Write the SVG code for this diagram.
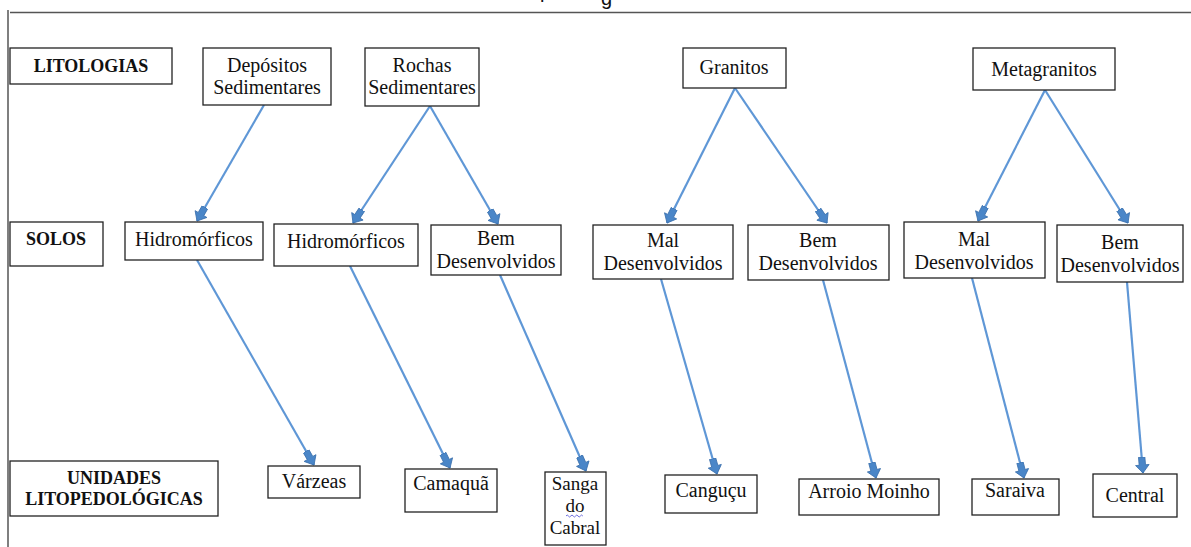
<svg xmlns="http://www.w3.org/2000/svg" width="1191" height="547" viewBox="0 0 1191 547">
<defs>
<style>
.box{fill:#fff;stroke:#222;stroke-width:1.3}
.t{font-family:"Liberation Serif","Times New Roman",serif;font-size:20px;fill:#111;text-anchor:middle}
.b{font-weight:bold;font-size:18px}
.s{font-size:19px}
.frame{stroke:#555;stroke-width:1.5;fill:none}
.ar{stroke:#5f97d6;stroke-width:2.2;fill:none;marker-end:url(#ah)}
.cap{font-family:"Liberation Sans",Arial,sans-serif;font-size:20px;fill:#111}
</style>
<marker id="ah" markerUnits="userSpaceOnUse" markerWidth="20" markerHeight="18" refX="16" refY="8" orient="auto" viewBox="0 0 20 16">
<path d="M0,4.8 L8,4.8 L8,1.2 L16,8 L8,14.8 L8,11.2 L0,11.2 Z" fill="#4a86c8" stroke="#3b70ad" stroke-width="0.8"/>
</marker>
</defs>
<rect width="1191" height="547" fill="#fff"/>
<text class="cap" x="540" y="-2">p</text>
<text class="cap" x="601" y="5">g</text>
<path class="frame" d="M10,12.5 H1191 M8,10 V547"/>

<g id="connectors">
<line class="ar" x1="264" y1="105" x2="197" y2="221"/>
<line class="ar" x1="430" y1="106" x2="353" y2="223"/>
<line class="ar" x1="430" y1="106" x2="498" y2="224"/>
<line class="ar" x1="735" y1="88" x2="667" y2="223"/>
<line class="ar" x1="735" y1="88" x2="827" y2="223"/>
<line class="ar" x1="1045" y1="90" x2="978" y2="221"/>
<line class="ar" x1="1045" y1="90" x2="1128" y2="223"/>
<line class="ar" x1="197" y1="260" x2="314" y2="465"/>
<line class="ar" x1="350" y1="266" x2="450" y2="468"/>
<line class="ar" x1="500" y1="275" x2="586" y2="471"/>
<line class="ar" x1="661" y1="279" x2="717" y2="474"/>
<line class="ar" x1="823" y1="280" x2="876" y2="478"/>
<line class="ar" x1="972" y1="278" x2="1024" y2="478"/>
<line class="ar" x1="1127" y1="282" x2="1143" y2="473"/>
</g>

<g id="litologias"><rect class="box" x="10" y="48" width="162" height="36"/><text class="t b" x="91" y="72">LITOLOGIAS</text></g>
<g id="depositos"><rect class="box" x="203" y="48" width="128" height="57"/><text class="t" x="267" y="72">Depósitos</text><text class="t" x="267" y="94">Sedimentares</text></g>
<g id="rochas"><rect class="box" x="365" y="48" width="114" height="58"/><text class="t" x="422" y="72">Rochas</text><text class="t" x="422" y="94">Sedimentares</text></g>
<g id="granitos"><rect class="box" x="683" y="48" width="103" height="40"/><text class="t" x="734" y="74">Granitos</text></g>
<g id="metagranitos"><rect class="box" x="973" y="48" width="142" height="42"/><text class="t" x="1044" y="76">Metagranitos</text></g>

<g id="solos"><rect class="box" x="10" y="222" width="93" height="44"/><text class="t b" x="56" y="245">SOLOS</text></g>
<g id="hidro1"><rect class="box" x="125" y="222" width="138" height="38"/><text class="t" x="194" y="246">Hidromórficos</text></g>
<g id="hidro2"><rect class="box" x="274" y="224" width="144" height="42"/><text class="t" x="346" y="248">Hidromórficos</text></g>
<g id="bem1"><rect class="box" x="431" y="225" width="130" height="50"/><text class="t" x="496" y="245">Bem</text><text class="t" x="496" y="268">Desenvolvidos</text></g>
<g id="mal1"><rect class="box" x="593" y="225" width="140" height="54"/><text class="t" x="663" y="247">Mal</text><text class="t" x="663" y="270">Desenvolvidos</text></g>
<g id="bem2"><rect class="box" x="748" y="225" width="141" height="55"/><text class="t" x="818" y="247">Bem</text><text class="t" x="818" y="270">Desenvolvidos</text></g>
<g id="mal2"><rect class="box" x="904" y="222" width="141" height="56"/><text class="t" x="974" y="246">Mal</text><text class="t" x="974" y="269">Desenvolvidos</text></g>
<g id="bem3"><rect class="box" x="1057" y="225" width="126" height="57"/><text class="t" x="1120" y="249">Bem</text><text class="t" x="1120" y="272">Desenvolvidos</text></g>

<g id="unidades"><rect class="box" x="10" y="461" width="208" height="55"/><text class="t b" x="114" y="484">UNIDADES</text><text class="t b" x="114" y="505">LITOPEDOLÓGICAS</text></g>
<g id="varzeas"><rect class="box" x="268" y="466" width="92" height="32"/><text class="t" x="314" y="488">Várzeas</text></g>
<g id="camaqua"><rect class="box" x="405" y="469" width="92" height="43"/><text class="t" x="451" y="490">Camaquã</text></g>
<g id="sanga"><rect class="box" x="545" y="472" width="61" height="73"/><text class="t s" x="575" y="490">Sanga</text><text class="t s" x="575" y="512">do</text><text class="t s" x="575" y="534">Cabral</text><path d="M566,516 q1.2,-2 2.4,0 t2.4,0 t2.4,0 t2.4,0 t2.4,0 t2.4,0 t2.4,0" fill="none" stroke="#5a5ad8" stroke-width="0.9"/></g>
<g id="cangucu"><rect class="box" x="665" y="475" width="92" height="38"/><text class="t" x="711" y="497">Canguçu</text></g>
<g id="arroio"><rect class="box" x="799" y="479" width="140" height="36"/><text class="t" x="869" y="498">Arroio Moinho</text></g>
<g id="saraiva"><rect class="box" x="972" y="479" width="87" height="36"/><text class="t" x="1015" y="497">Saraiva</text></g>
<g id="central"><rect class="box" x="1093" y="474" width="84" height="43"/><text class="t" x="1135" y="502">Central</text></g>
</svg>
